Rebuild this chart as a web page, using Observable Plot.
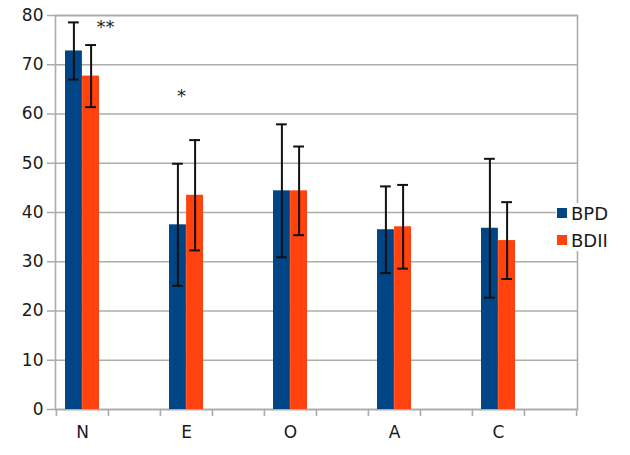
<!DOCTYPE html>
<html>
<head>
<meta charset="utf-8">
<script src="https://cdn.jsdelivr.net/npm/d3@7"></script>
<script src="https://cdn.jsdelivr.net/npm/@observablehq/plot@0.6"></script>
<style>
  html, body { margin: 0; padding: 0; background: #fff; }
  #wrap { position: relative; width: 630px; height: 455px; font-family: "DejaVu Sans", sans-serif; }
  #legend { position: absolute; left: 556px; top: 203px; width: 64px; height: 48px; background: #fff; }
  .li { position: absolute; left: 0; height: 20px; display: flex; align-items: center; font-size: 18px; color: #1a1a1a; }
  .sw { width: 10px; height: 10px; margin-left: 1px; margin-right: 4px; }
</style>
</head>
<body>
<div id="wrap"></div>
<script>
// ---- data ----
const categories = ["N", "E", "O", "A", "C"];
const seriesNames = ["BPD", "BDII"];
const bpdMean = [72.8, 37.5, 44.4, 36.5, 36.8];
const bpdSD   = [5.8, 12.4, 13.5, 8.8, 14.1];
const bdiiMean = [67.7, 43.5, 44.4, 37.1, 34.3];
const bdiiSD   = [6.3, 11.2, 9.0, 8.5, 7.8];
const sigLabels = ["**", "*", "", "", ""];
const sigLevel  = [77.6, 63.6, null, null, null];
const yTicks = [0, 10, 20, 30, 40, 50, 60, 70, 80];
const colors = ["#004586", "#ff420e"];

// category slots: each category is followed by an empty slot
const slots = categories.flatMap((c, i) => [c, "_" + i]);

const rows = [];
categories.forEach((c, i) => {
  rows.push({cat: c, series: "BPD", mean: bpdMean[i], sd: bpdSD[i]});
  rows.push({cat: c, series: "BDII", mean: bdiiMean[i], sd: bdiiSD[i]});
});
const bpd = rows.filter(d => d.series === "BPD");
const bdii = rows.filter(d => d.series === "BDII");
const sig = categories.map((c, i) => ({cat: c, label: sigLabels[i], level: sigLevel[i]})).filter(d => d.label);

const W = 630, H = 455, mL = 55, mR = 53, mT = 15, mB = 46;
const bw = (W - mL - mR) / slots.length;
const gray = "#acacac";
const errStyle = {stroke: "#111", strokeWidth: 2};

const chart = Plot.plot({
  width: W, height: H,
  marginLeft: mL, marginRight: mR, marginTop: mT, marginBottom: mB,
  style: {fontFamily: "DejaVu Sans, sans-serif", fontSize: "17px", color: "#1a1a1a", background: "#fff"},
  x: {domain: slots, padding: 0, tickSize: 0, tickPadding: 16, label: null,
      tickFormat: d => d.startsWith("_") ? "" : d},
  y: {domain: [0, 80], ticks: yTicks, tickSize: 0, tickPadding: 12, label: null},
  color: {domain: seriesNames, range: colors},
  marks: [
    Plot.ruleY(yTicks, {stroke: gray, strokeWidth: 1.6, insetLeft: -8}),
    Plot.frame({stroke: gray, strokeWidth: 1.6}),
    Plot.ruleX(slots, {x: d => d, y1: 0, y2: 0, dx: -bw / 2, insetBottom: -7, stroke: gray, strokeWidth: 1.6}),
    Plot.ruleX([slots[slots.length - 1]], {x: d => d, y1: 0, y2: 0, dx: bw / 2, insetBottom: -7, stroke: gray, strokeWidth: 1.6}),
    Plot.barY(bpd, {x: "cat", y: "mean", fill: "series", insetLeft: 9, insetRight: bw / 2}),
    Plot.barY(bdii, {x: "cat", y: "mean", fill: "series", insetLeft: bw / 2, insetRight: 9}),
    Plot.ruleX(bpd, {x: "cat", y1: d => d.mean - d.sd, y2: d => d.mean + d.sd, dx: -8.6, ...errStyle}),
    Plot.ruleX(bdii, {x: "cat", y1: d => d.mean - d.sd, y2: d => d.mean + d.sd, dx: 8.6, ...errStyle}),
    Plot.tickY(bpd, {x: "cat", y: d => d.mean + d.sd, insetLeft: 12, insetRight: bw - 23, ...errStyle}),
    Plot.tickY(bpd, {x: "cat", y: d => d.mean - d.sd, insetLeft: 12, insetRight: bw - 23, ...errStyle}),
    Plot.tickY(bdii, {x: "cat", y: d => d.mean + d.sd, insetLeft: bw - 23, insetRight: 12, ...errStyle}),
    Plot.tickY(bdii, {x: "cat", y: d => d.mean - d.sd, insetLeft: bw - 23, insetRight: 12, ...errStyle}),
    Plot.text(sig.filter(d => d.label === "**"), {x: "cat", y: "level", text: "label", dx: 23, fontSize: 18, fill: "#222"}),
    Plot.text(sig.filter(d => d.label === "*"), {x: "cat", y: "level", text: "label", dx: -5, fontSize: 18, fill: "#222"})
  ]
});

const wrap = document.getElementById("wrap");
wrap.appendChild(chart);

// legend
const legend = document.createElement("div");
legend.id = "legend";
seriesNames.forEach((s, i) => {
  const item = document.createElement("div");
  item.className = "li";
  item.style.top = (i === 0 ? 0 : 27) + "px";
  const sw = document.createElement("span");
  sw.className = "sw";
  sw.style.background = colors[i];
  const t = document.createElement("span");
  t.textContent = s;
  item.appendChild(sw);
  item.appendChild(t);
  legend.appendChild(item);
});
wrap.appendChild(legend);
</script>
</body>
</html>
